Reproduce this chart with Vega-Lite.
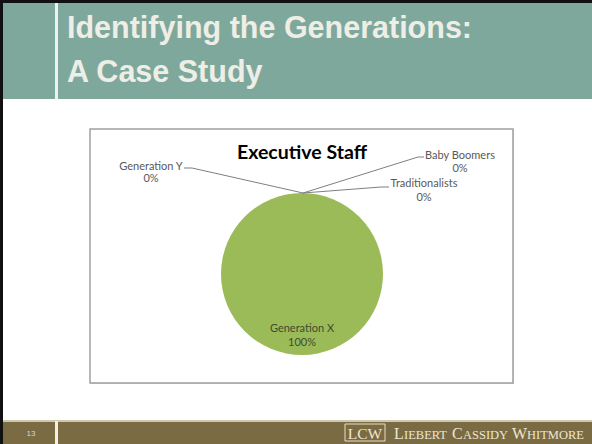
{
  "$schema": "https://vega.github.io/schema/vega-lite/v6.json",
  "width": 592,
  "height": 444,
  "padding": 0,
  "autosize": {"type": "fit", "contains": "padding"},
  "background": "#ffffff",
  "config": {"view": {"stroke": null}},
  "data": {
    "values": [
      {"generation": "Traditionalists", "share": 0},
      {"generation": "Baby Boomers", "share": 0},
      {"generation": "Generation X", "share": 1},
      {"generation": "Generation Y", "share": 0}
    ]
  },
  "transform": [
    {"calculate": "[datum.generation, format(datum.share, '.0%')]", "as": "label"}
  ],
  "layer": [
    {"data": {"values": [{}]}, "mark": {"type": "rect", "x": 0, "x2": 592, "y": 0, "y2": 99, "fill": "#7fa89c"}, "encoding": {}},
    {"data": {"values": [{}]}, "mark": {"type": "rect", "x": 0, "x2": 592, "y": 0, "y2": 3, "fill": "#111111"}, "encoding": {}},
    {"data": {"values": [{}]}, "mark": {"type": "rect", "x": 0, "x2": 3, "y": 0, "y2": 444, "fill": "#111111"}, "encoding": {}},
    {"data": {"values": [{}]}, "mark": {"type": "rect", "x": 55, "x2": 58, "y": 3, "y2": 99, "fill": "#eef2ee"}, "encoding": {}},
    {"data": {"values": [{}]}, "mark": {"type": "text", "x": 67, "y": 38, "align": "left", "baseline": "alphabetic", "font": "Liberation Sans", "fontWeight": "bold", "fontSize": 30.5, "lineHeight": 44, "fill": "#eeeee6", "text": ["Identifying the Generations:", "A Case Study"]}, "encoding": {}},
    {"data": {"values": [{}]}, "mark": {"type": "rect", "x": 3, "x2": 592, "y": 421, "y2": 444, "fill": "#7b6b43"}, "encoding": {}},
    {"data": {"values": [{}]}, "mark": {"type": "rect", "x": 3, "x2": 592, "y": 420, "y2": 422, "fill": "#cfc8b0"}, "encoding": {}},
    {"data": {"values": [{}]}, "mark": {"type": "rect", "x": 55, "x2": 58, "y": 421, "y2": 444, "fill": "#f2efe6"}, "encoding": {}},
    {"data": {"values": [{}]}, "mark": {"type": "text", "x": 31, "y": 434, "align": "center", "baseline": "middle", "font": "Liberation Sans", "fontSize": 8, "fill": "#ddd6c0", "text": "13"}, "encoding": {}},
    {"data": {"values": [{}]}, "mark": {"type": "rect", "x": 345, "x2": 385, "y": 424, "y2": 441, "fill": null, "stroke": "#e6dfc8", "strokeWidth": 1}, "encoding": {}},
    {"data": {"values": [{}]}, "mark": {"type": "text", "x": 365, "y": 438.5, "align": "center", "baseline": "alphabetic", "font": "Liberation Serif", "fontSize": 15.5, "fill": "#ece6d2", "text": "LCW"}, "encoding": {}},
    {"data": {"values": [{}]}, "mark": {"type": "text", "x": 394, "y": 438.5, "align": "left", "baseline": "alphabetic", "font": "Liberation Serif", "fontSize": 16, "fill": "#ece6d2", "text": "L"}, "encoding": {}},
    {"data": {"values": [{}]}, "mark": {"type": "text", "x": 404, "y": 438.5, "align": "left", "baseline": "alphabetic", "font": "Liberation Serif", "fontSize": 12.5, "fill": "#ece6d2", "text": "IEBERT"}, "encoding": {}},
    {"data": {"values": [{}]}, "mark": {"type": "text", "x": 452, "y": 438.5, "align": "left", "baseline": "alphabetic", "font": "Liberation Serif", "fontSize": 16, "fill": "#ece6d2", "text": "C"}, "encoding": {}},
    {"data": {"values": [{}]}, "mark": {"type": "text", "x": 463, "y": 438.5, "align": "left", "baseline": "alphabetic", "font": "Liberation Serif", "fontSize": 12.5, "fill": "#ece6d2", "text": "ASSIDY"}, "encoding": {}},
    {"data": {"values": [{}]}, "mark": {"type": "text", "x": 512, "y": 438.5, "align": "left", "baseline": "alphabetic", "font": "Liberation Serif", "fontSize": 16, "fill": "#ece6d2", "text": "W"}, "encoding": {}},
    {"data": {"values": [{}]}, "mark": {"type": "text", "x": 527, "y": 438.5, "align": "left", "baseline": "alphabetic", "font": "Liberation Serif", "fontSize": 12.5, "fill": "#ece6d2", "text": "HITMORE"}, "encoding": {}},
    {"data": {"values": [{}]}, "mark": {"type": "rect", "x": 91, "x2": 514, "y": 130, "y2": 384, "fill": "#d9d9d9"}, "encoding": {}},
    {"data": {"values": [{}]}, "mark": {"type": "rect", "x": 90, "x2": 513, "y": 129, "y2": 383, "fill": "#ffffff", "stroke": "#a0a0a0", "strokeWidth": 1.5}, "encoding": {}},
    {"data": {"values": [{}]}, "mark": {"type": "text", "x": 302, "y": 153, "align": "center", "baseline": "middle", "font": "Lato", "fontWeight": "bold", "fontSize": 19.5, "fill": "#000000", "text": "Executive Staff"}, "encoding": {}},
    {
      "mark": {"type": "arc", "x": 302, "y": 274, "outerRadius": 81, "stroke": null},
      "encoding": {
        "theta": {"field": "share", "type": "quantitative", "stack": true},
        "color": {
          "field": "generation",
          "type": "nominal",
          "scale": {"domain": ["Traditionalists", "Baby Boomers", "Generation X", "Generation Y"], "range": ["#4f81bd", "#c0504d", "#9bbb59", "#8064a2"]},
          "legend": null
        },
        "order": {"field": "generation", "sort": "ascending"}
      }
    },
    {"data": {"values": [{}]}, "mark": {"type": "rule", "stroke": "#7f7f7f", "strokeWidth": 1}, "encoding": {"x": {"value": 184}, "y": {"value": 168}, "x2": {"value": 192}, "y2": {"value": 168}}},
    {"data": {"values": [{}]}, "mark": {"type": "rule", "stroke": "#7f7f7f", "strokeWidth": 1}, "encoding": {"x": {"value": 192}, "y": {"value": 168}, "x2": {"value": 303}, "y2": {"value": 193}}},
    {"data": {"values": [{}]}, "mark": {"type": "rule", "stroke": "#7f7f7f", "strokeWidth": 1}, "encoding": {"x": {"value": 424}, "y": {"value": 157}, "x2": {"value": 418}, "y2": {"value": 157}}},
    {"data": {"values": [{}]}, "mark": {"type": "rule", "stroke": "#7f7f7f", "strokeWidth": 1}, "encoding": {"x": {"value": 418}, "y": {"value": 157}, "x2": {"value": 303}, "y2": {"value": 193}}},
    {"data": {"values": [{}]}, "mark": {"type": "rule", "stroke": "#7f7f7f", "strokeWidth": 1}, "encoding": {"x": {"value": 389}, "y": {"value": 187}, "x2": {"value": 381}, "y2": {"value": 187}}},
    {"data": {"values": [{}]}, "mark": {"type": "rule", "stroke": "#7f7f7f", "strokeWidth": 1}, "encoding": {"x": {"value": 381}, "y": {"value": 187}, "x2": {"value": 303}, "y2": {"value": 193}}},
    {
      "transform": [{"filter": "datum.generation === 'Generation Y'"}],
      "mark": {"type": "text", "x": 151, "y": 167, "align": "center", "baseline": "middle", "font": "Lato", "fontSize": 11, "lineHeight": 12, "fill": "#595959"},
      "encoding": {"text": {"field": "label"}}
    },
    {
      "transform": [{"filter": "datum.generation === 'Baby Boomers'"}],
      "mark": {"type": "text", "x": 460, "y": 156, "align": "center", "baseline": "middle", "font": "Lato", "fontSize": 11, "lineHeight": 13, "fill": "#595959"},
      "encoding": {"text": {"field": "label"}}
    },
    {
      "transform": [{"filter": "datum.generation === 'Traditionalists'"}],
      "mark": {"type": "text", "x": 424, "y": 184, "align": "center", "baseline": "middle", "font": "Lato", "fontSize": 11, "lineHeight": 14, "fill": "#595959"},
      "encoding": {"text": {"field": "label"}}
    },
    {
      "transform": [{"filter": "datum.generation === 'Generation X'"}],
      "mark": {"type": "text", "x": 302, "y": 329, "align": "center", "baseline": "middle", "font": "Lato", "fontSize": 11, "lineHeight": 14, "fill": "#3f4a30"},
      "encoding": {"text": {"field": "label"}}
    }
  ]
}
